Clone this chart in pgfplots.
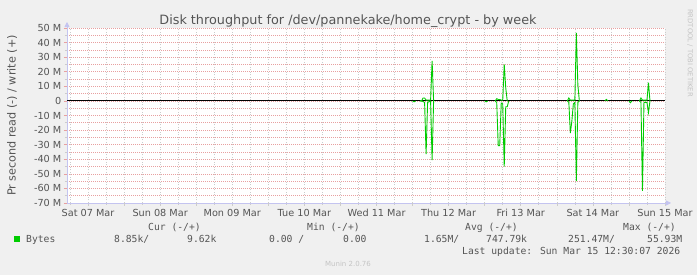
\documentclass[border=0pt]{standalone}
\usepackage{fontspec}
\setmainfont{DejaVu Sans}
\newfontfamily\mono{DejaVu Sans Mono}
\usepackage{pgfplots}
\pgfplotsset{compat=1.18}
\usetikzlibrary{arrows.meta}
\definecolor{bg}{HTML}{F0F0F0}
\definecolor{txt}{HTML}{555555}
\definecolor{mgrid}{HTML}{E8A0A0}
\definecolor{sgrid}{HTML}{CCCCCC}
\definecolor{axl}{HTML}{C4C4F0}
\definecolor{lgreen}{HTML}{00CC00}
\definecolor{faint}{HTML}{C4C4C4}
\begin{document}
\begin{tikzpicture}[x=1pt,y=1pt]
\fill[bg] (0,0) rectangle (697,275);
\useasboundingbox (0,0) rectangle (697,275);
\begin{axis}[
  at={(67pt,72pt)}, anchor=south west, scale only axis,
  width=598pt, height=175pt,
  xmin=5, xmax=204, ymin=-70, ymax=50,
  axis background/.style={fill=white},
  axis lines=left,
  axis line style={axl, line width=0.8pt, -{Triangle[width=5pt,length=5pt]}, shorten >=-6pt},
  tick align=outside,
  major tick length=3pt, minor tick length=2pt,
  xtick={12,36,60,84,108,132,156,180,204},
  xticklabels={Sat 07 Mar,Sun 08 Mar,Mon 09 Mar,Tue 10 Mar,Wed 11 Mar,Thu 12 Mar,Fri 13 Mar,Sat 14 Mar,Sun 15 Mar},
  minor xtick={6,18,30,42,54,66,78,90,102,114,126,138,150,162,174,186,198},
  extra x ticks={24,48,72,96,120,144,168,192},
  extra x tick labels={},
  extra x tick style={grid=major, major grid style={mgrid, line width=0.6pt, dash pattern=on 1pt off 1pt}, major tick style={mgrid, line width=0.6pt}},
  ytick={-70,-60,-50,-40,-30,-20,-10,0,10,20,30,40,50},
  yticklabels={-70 M,-60 M,-50 M,-40 M,-30 M,-20 M,-10 M,0,10 M,20 M,30 M,40 M,50 M},
  minor ytick={-65,-55,-45,-35,-25,-15,-5,5,15,25,35,45},
  grid=both,
  x grid style={sgrid, line width=0.6pt, dash pattern=on 1pt off 1.5pt},
  minor grid style={sgrid, line width=0.6pt, dash pattern=on 1pt off 1.5pt},
  y grid style={mgrid, line width=0.6pt, dash pattern=on 1pt off 1pt},
  x tick style={sgrid, line width=0.6pt},
  y tick style={mgrid, line width=0.6pt},
  minor y tick style={sgrid},
  tick label style={font=\fontsize{9.7}{11}\selectfont, text=txt},
  xticklabel style={anchor=north, inner sep=0pt, yshift=-3pt},
  yticklabel style={anchor=east, inner sep=0pt, xshift=-2.5pt},
  unbounded coords=jump,
  clip=false,
]
\addplot[black, line width=1pt] coordinates {(5,0)(204,0)};
% read (negative)
\addplot[lgreen, line width=0.9pt] coordinates {
(120,0)(120.5,-0.6)(121,0) (121.5,nan)
(122.5,0)(123,0)(123.5,-0.5)(124,-1)(124.5,-36.5)(125,-1)(125.5,-0.5)(126,-0.5)(126.5,-40.6)(127,0) (127.5,nan)
(144,0)(144.5,-0.6)(145,0) (145.5,nan)
(147.5,0)(148,-1)(148.5,-30.7)(149,-30.7)(149.5,-1.5)(150,-2)(150.5,-45)(151,-4)(151.5,-4)(152,0) (152.5,nan)
(171.5,0)(172,-1)(172.5,-22)(173,-14)(173.5,-2)(174,-1)(174.5,-55)(175,-1)(175.5,0) (176,nan)
(192,0)(192.5,-1.2)(193,0) (193.5,nan)
(195.5,0)(196,-1)(196.5,-61.7)(197,-1)(197.5,-1)(198,-1)(198.5,-8)(199,0)
};
% write (positive)
\addplot[lgreen, line width=0.9pt] coordinates {
(122.5,0)(123,0)(123.5,2)(124,2)(124.5,0.5)(125,0.5)(125.5,0.5)(126,0.5)(126.5,27.5)(127,0) (127.5,nan)
(147.5,0)(148,1.5)(148.5,1)(149,1)(149.5,0.5)(150,0.5)(150.5,25)(151,9)(151.5,0) (152,nan)
(171.5,0)(172,2)(172.5,0.5)(173,0.5)(173.5,0.5)(174,0.5)(174.5,46.6)(175,11)(175.5,0) (176,nan)
(184,0)(184.5,1)(185,0) (185.5,nan)
(195.5,0)(196,2)(196.5,0.5)(197,0.5)(197.5,0.5)(198,0.5)(198.5,12.6)(199,0)
};
\end{axis}
% title
\node[anchor=base, text=txt, font=\fontsize{12.8}{14}\selectfont, inner sep=0pt] at (348,250.5) {Disk throughput for /dev/pannekake/home\_crypt - by week};
% y label
\node[anchor=base, rotate=90, text=txt, font=\fontsize{11.2}{13}\selectfont, inner sep=0pt] at (15.5,159.5) {Pr second read (-) / write (+)};
% rrdtool
\node[anchor=center, rotate=-90, text=faint, font=\fontsize{6.8}{8}\selectfont, inner sep=0pt] at (690,222) {RRDTOOL / TOBI OETIKER};
% legend
\begin{scope}[every node/.style={anchor=base west, inner sep=0pt, text=txt, font=\mono\fontsize{9.7}{11}\selectfont}]
\node at (148,44) {Cur (-/+)};
\node at (307,44) {Min (-/+)};
\node at (465,44) {Avg (-/+)};
\node at (623,44) {Max (-/+)};
\node at (26,32.3) {Bytes};
\node at (114,32.3) {8.85k/};
\node at (187,32.3) {9.62k};
\node at (269,32.3) {0.00 /};
\node at (343,32.3) {0.00};
\node at (424,32.3) {1.65M/};
\node at (486,32.3) {747.79k};
\node at (568,32.3) {251.47M/};
\node at (647,32.3) {55.93M};
\node at (462,20.7) {Last update: Sun Mar 15 12:30:07 2026};
\end{scope}
\fill[lgreen] (14,32.7) rectangle (20,39);
\node[anchor=base, inner sep=0pt, text=faint, font=\fontsize{7}{8}\selectfont] at (348,8.3) {Munin 2.0.76};
\end{tikzpicture}
\end{document}
